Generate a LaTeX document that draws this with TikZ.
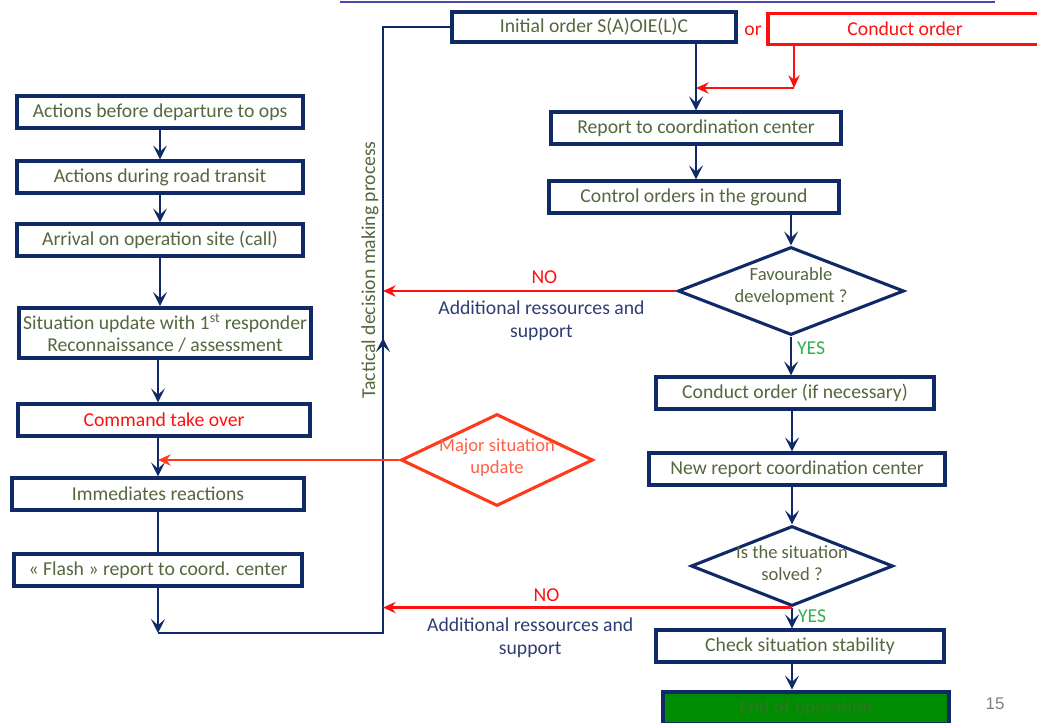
\documentclass[tikz,border=0pt]{standalone}
\usepackage{fontspec}
\setmainfont{Carlito}
\newfontfamily\pagenumfont{Liberation Sans}
\usetikzlibrary{arrows.meta,shapes.geometric}

\definecolor{navy}{HTML}{102A68}
\definecolor{olivetxt}{HTML}{56663F}
\definecolor{bluetxt}{HTML}{2E3D73}
\definecolor{alertred}{HTML}{FF1010}
\definecolor{majorred}{HTML}{FF3A1A}
\definecolor{yesgreen}{HTML}{30B050}
\definecolor{endgreen}{HTML}{008C00}
\definecolor{titleline}{HTML}{4A4AA8}

\newcommand{\boxfont}{\fontsize{14}{16}\selectfont}
\newcommand{\decfont}{\fontsize{13.2}{15.6}\selectfont}

\tikzset{
  stepbox/.style={draw=navy, line width=2.8pt, fill=white, text=olivetxt,
    minimum height=0.78cm, inner sep=0pt, align=center, font=\boxfont},
  decision/.style={diamond, draw=navy, line width=2.2pt, fill=white, inner sep=0pt},
  insidetext/.style={align=center, text=olivetxt, font=\decfont},
  flow/.style={navy, line width=2pt, -{Stealth[length=10pt,width=10pt,inset=4.5pt]}},
  plainflow/.style={navy, line width=2pt},
  noflow/.style={alertred, line width=2pt, -{Stealth[length=9pt,width=8pt,inset=3pt]}},
  edgetext/.style={font=\boxfont, align=center}
}

\begin{document}
\begin{tikzpicture}[x=0.025cm, y=-0.025cm]
  \useasboundingbox (0,0) rectangle (1037,722);
  \clip (0,0) rectangle (1037,722);

  % remains of the slide title frame
  \draw[titleline, line width=1.6pt] (340,2) -- (995,2);

  % Left column: arrival on site
  \node[stepbox, minimum width=7.15cm] (depart) at (160,112) {Actions before departure to ops};
  \node[stepbox, minimum width=7.15cm] (transit) at (160,177) {Actions during road transit};
  \node[stepbox, minimum width=7.15cm] (arrival) at (160,240) {Arrival on operation site (call)};
  \node[stepbox, minimum width=7.3cm, minimum height=1.25cm] (situpd) at (165,333)
    {Situation update with 1\textsuperscript{st} responder\\Reconnaissance / assessment};
  \node[stepbox, minimum width=7.32cm, text=alertred] (takeover) at (164,420) {Command take over};
  \node[stepbox, minimum width=7.32cm] (reactions) at (158,494) {Immediates reactions};
  \node[stepbox, minimum width=7.22cm] (flash) at (158,570) {« Flash » report to coord. center};

  % Major update
  \node[decision, draw=majorred, minimum width=4.8cm, minimum height=2.3cm,
    label={[insidetext, text=majorred!80!white, yshift=2pt]center:Major situation\\update}]
    (major) at (497,460) {};

  % Right column: orders
  \node[stepbox, minimum width=7.1cm, minimum height=0.73cm] (initial) at (594,27) {Initial order S(A)OIE(L)C};
  \node[text=alertred, font=\boxfont] (orword) at (753,31) {or};
  \node[stepbox, draw=alertred, line width=2.4pt, text=alertred, minimum width=6.85cm] (conduct) at (905,29) {Conduct order};
  \node[stepbox, minimum width=7.25cm] (report) at (696,128) {Report to coordination center};
  \node[stepbox, minimum width=7.27cm] (control) at (694,197) {Control orders in the ground};
  \node[decision, minimum width=5.65cm, minimum height=2.2cm,
    label={[insidetext, yshift=3pt]center:Favourable\\development ?}] (favour) at (791,291) {};
  \node[stepbox, minimum width=6.95cm] (condnec) at (795,393) {Conduct order (if necessary)};
  \node[stepbox, minimum width=7.38cm] (newrep) at (797,469) {New report coordination center};
  \node[decision, minimum width=5.05cm, minimum height=2.0cm,
    label={[insidetext, yshift=2pt]center:Is the situation\\solved ?}] (solved) at (792,566) {};
  \node[stepbox, minimum width=7.2cm] (stable) at (800,646) {Check situation stability};
  \node[stepbox, fill=endgreen, text=endgreen!50!olivetxt, minimum width=7.15cm, minimum height=0.82cm]
    (endop) at (806,708) {End of operation};
  \node[text=gray, font=\pagenumfont\fontsize{12}{14}\selectfont] (pagenum) at (995,704) {15};

  % Loop back to the orders
  \coordinate (loopA) at (158,633);
  \coordinate (loopB) at (383,633);
  \coordinate (loopM) at (383,338);
  \coordinate (loopC) at (383,27);
  \node[rotate=90, text=olivetxt, font=\boxfont] (tactical) at (370,270) {Tactical decision making process};

  % Left column arrows
  \draw[flow] (depart.south) -- (depart.south |- transit.north);
  \draw[flow] (transit.south) -- (transit.south |- arrival.north);
  \draw[flow] (arrival.south) -- (arrival.south |- situpd.north);
  \draw[flow] (reactions.north |- situpd.south) -- (reactions.north |- takeover.north);
  \draw[flow] (reactions.north |- takeover.south) -- (reactions.north);
  \draw[plainflow] (reactions.south) -- (flash.north);
  \draw[flow] (flash.south) -- (loopA);
  \draw[plainflow] (loopA) -- (loopB) -- (loopC) -- (initial.west);
  \draw[flow] (loopB) -- (loopM);
  \draw[majorred, line width=2pt, -{Stealth[length=9pt,width=8pt,inset=3pt]}]
    (major.west) -- (major.west -| reactions.north);

  % Right column arrows
  \coordinate (redturn) at (794,88);
  \draw[noflow] (redturn |- conduct.south) -- (redturn);
  \draw[noflow] (redturn) -- (redturn -| report.north);
  \draw[flow] (initial.south -| report.north) -- (report.north);
  \draw[flow] (report.south) -- (report.south |- control.north);
  \draw[flow] (favour.north |- control.south) -- (favour.north);
  \draw[flow] (favour.south) -- (favour.south |- condnec.north)
    node[pos=0.3, right, text=yesgreen, font=\boxfont] (yesone) {YES};
  \draw[flow] (solved.north |- condnec.south) -- (solved.north |- newrep.north);
  \draw[flow] (solved.north |- newrep.south) -- (solved.north);
  \draw[flow] (solved.south) -- (solved.south |- stable.north)
    node[pos=0.4, right, text=yesgreen, font=\boxfont] (yestwo) {YES};
  \draw[flow] (solved.south |- stable.south) -- (solved.south |- endop.north);

  % NO branches back to the loop
  \draw[noflow] (favour.west) -- (favour.west -| loopB)
    node[pos=0.45, above=1pt, text=alertred, font=\boxfont] (noone) {NO}
    node[pos=0.46, below=3pt, text=bluetxt, edgetext] (addone) {Additional ressources and\\support};
  \draw[noflow] (solved.south) -- (solved.south -| loopB)
    node[pos=0.6, above=0pt, text=alertred, font=\boxfont] (notwo) {NO}
    node[pos=0.64, below=3pt, text=bluetxt, edgetext] (addtwo) {Additional ressources and\\support};
\end{tikzpicture}
\end{document}
